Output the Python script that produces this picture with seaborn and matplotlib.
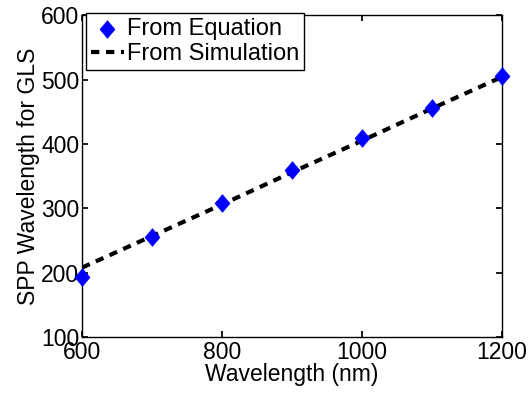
import matplotlib
matplotlib.use("Agg")
import matplotlib.pyplot as plt
import seaborn as sns
import pandas as pd

wavelength = [600, 700, 800, 900, 1000, 1100, 1200]
spp_equation = [193, 255, 309, 360, 409, 456, 505]
spp_simulation = [208, 257, 306, 356, 405, 455, 504]

sns.set_theme(style="white")
plt.rcParams['font.family'] = ['Liberation Sans', 'DejaVu Sans']
plt.rcParams['text.color'] = 'black'
plt.rcParams['axes.labelcolor'] = 'black'
plt.rcParams['xtick.color'] = 'black'
plt.rcParams['ytick.color'] = 'black'

df = pd.DataFrame({"x": wavelength, "eq": spp_equation, "sim": spp_simulation})

fig = plt.figure(figsize=(5.3, 3.98), dpi=100)
ax = fig.add_axes([0.155, 0.153, 0.792, 0.809])

diamond = [(0, 1), (0.85, 0), (0, -1), (-0.85, 0), (0, 1)]
sns.scatterplot(data=df, x="x", y="eq", ax=ax, marker=diamond, s=160,
                color="blue", edgecolor="blue", linewidth=0.5, label="From Equation",
                zorder=3, clip_on=False)
sns.lineplot(data=df, x="x", y="sim", ax=ax, color="black", linewidth=3,
             linestyle=(0, (2, 1.6)), label="From Simulation", zorder=2)

ax.set_xlim(600, 1200)
ax.set_ylim(100, 600)
ax.set_xticks([600, 800, 1000, 1200])
ax.set_yticks([100, 200, 300, 400, 500, 600])
ax.tick_params(axis="both", direction="in", length=4, labelsize=16.5, pad=2,
               top=True, right=True, bottom=True, left=True,
               colors="black", labelcolor="black")
ax.tick_params(axis="x", pad=3)
ax.set_xlabel("Wavelength (nm)", fontsize=16.5, labelpad=-1, color="black")
ax.set_ylabel("SPP Wavelength for GLS", fontsize=16.5, labelpad=1, color="black")
for s in ax.spines.values():
    s.set_color("black")
    s.set_linewidth(1.0)

leg = ax.legend(loc="upper left", bbox_to_anchor=(0.0095, 1.006), fontsize=17,
                frameon=True, fancybox=False, edgecolor="black", borderpad=0.2,
                handlelength=1.4, handletextpad=0.15, labelspacing=0.15,
                borderaxespad=0.0, framealpha=1)
leg.get_frame().set_linewidth(1.0)
for t in leg.get_texts():
    t.set_color("black")

fig.savefig("out.png", dpi=100)
